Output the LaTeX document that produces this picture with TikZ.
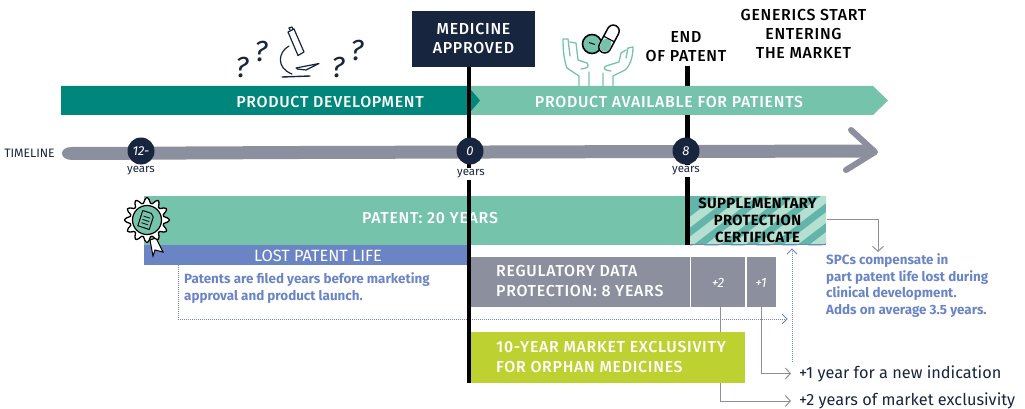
\documentclass[tikz,border=0pt]{standalone}
\usepackage{fontspec}
\setmainfont{Fira Sans}
\newfontfamily\capsmed[LetterSpace=4.5]{Fira Sans Medium}
\newfontfamily\capsbold[LetterSpace=2.5]{Fira Sans}
\usetikzlibrary{arrows.meta,calc}
\definecolor{navy}{HTML}{18253F}
\definecolor{teal1}{HTML}{00867A}
\definecolor{mint}{HTML}{76C3AB}
\definecolor{greyb}{HTML}{8C909E}
\definecolor{blue1}{HTML}{6B84C4}
\definecolor{lime}{HTML}{BDD131}
\definecolor{stripeA}{HTML}{B5DFD0}
\definecolor{stripeB}{HTML}{62B5A8}
\tikzset{
 x=1pt,y=-1pt,
 box/.style={inner sep=0pt,outer sep=0pt,anchor=north west},
 capt/.style={font=\fontsize{15.9}{18}\selectfont\capsmed,text=white,align=center,inner sep=0pt},
 captl/.style={font=\fontsize{15.9}{20}\selectfont\capsmed,text=white,align=left,inner sep=0pt,anchor=west},
 headt/.style={font=\fontsize{15.9}{19}\selectfont\capsmed,text=black,align=center,inner sep=0pt},
 bluet/.style={font=\fontsize{13.4}{16.4}\selectfont\bfseries,text=blue1,align=left,inner sep=0pt,anchor=west},
 yearst/.style={font=\fontsize{11.5}{13}\selectfont,text=navy,inner sep=1.5pt,fill=white},
 dot/.style={circle,fill=navy,minimum size=27pt,inner sep=0pt,text=white,font=\fontsize{13}{13}\selectfont\itshape},
 gline/.style={draw=greyb,line width=1pt},
 garrow/.style={gline,-{Straight Barb[length=5pt,width=11pt]}},
 dotline/.style={draw=blue1,line width=1pt,densely dotted},
 noteT/.style={font=\fontsize{16.3}{16}\selectfont,text=navy,inner sep=0pt,anchor=west},
 quest/.style={font=\fontsize{29}{29}\selectfont\itshape,text=navy,inner sep=0pt},
 blackl/.style={draw=black,line width=4.5pt},
 handl/.style={draw=mint,line width=1.3pt,line join=round,line cap=round},
 ink/.style={draw=navy,line width=1.2pt,line cap=round,line join=round},
}
\begin{document}
\begin{tikzpicture}
\useasboundingbox (0,0) rectangle (1025,409);
% end of patent line lies behind the arrows
\coordinate (lineB1) at (687.5,66);
\coordinate (lineB2) at (687.5,245);
\draw[blackl] (lineB1) -- (lineB2);
% arrows
\fill[mint] (469,86) -- (873,86) -- (888,100.5) -- (873,115) -- (469,115) -- (479,100.5) -- cycle;
\fill[teal1] (61,86) -- (468,86) -- (480,100.5) -- (468,115) -- (61,115) -- cycle;
\node[capt] (dev) at (330,102.5) {PRODUCT DEVELOPMENT};
\node[capt] (avail) at (669,102.5) {PRODUCT AVAILABLE FOR PATIENTS};
% timeline
\fill[greyb] (72,147) .. controls (65,147) and (62,150) .. (62,153.5) .. controls (62,157) and (66,160) .. (72,160)
  -- (300,159) -- (870,157.5) -- (870,144.5) -- (300,146) -- cycle;
\draw[greyb,line width=6pt,line cap=round,line join=round] (851,130) -- (875,152) -- (846,170);
\node[font=\fontsize{12.2}{13}\selectfont,text=navy,inner sep=0pt] (tl) at (29.5,153) {TIMELINE};
% patent bars
\node[box,fill=blue1,minimum width=325pt,minimum height=20pt] (lost) at (144,245) {};
\node[font=\fontsize{16.3}{18}\selectfont,text=white,inner sep=0pt] (lostt) at (318,255.5) {LOST PATENT LIFE};
\node[box,fill=mint,minimum width=541pt,minimum height=49pt] (patent) at (144,196) {};
\draw[blackl] (lineB1) ++(0,130) -- (lineB2);
\node[capt] (patentt) at (430,218) {PATENT: 20 YEARS};
% SPC
\begin{scope}
\clip (690,196) rectangle (826,245);
\fill[stripeB] (690,196) rectangle (826,245);
\foreach \i in {0,...,8}{
  \fill[stripeA] ({640+\i*26},255) -- ({654+\i*26},255) -- ({739+\i*26},190) -- ({725+\i*26},190) -- cycle;
}
\fill[blue1] (690,243.5) rectangle (826,245);
\end{scope}
\node[box,minimum width=138pt,minimum height=49pt] (spc) at (688,196) {};
\node[font=\fontsize{14.8}{17}\selectfont\capsbold\bfseries,text=black,align=center,inner sep=0pt] (spct) at (757.5,220) {SUPPLEMENTARY\\PROTECTION\\CERTIFICATE};
% reg boxes
\node[box,fill=greyb,minimum width=219pt,minimum height=50pt] (reg) at (471,257) {};
\node[box,fill=greyb,minimum width=54pt,minimum height=50pt] (p2) at (691,257) {};
\node[box,fill=greyb,minimum width=29pt,minimum height=50pt] (p1) at (747,257) {};
\node[captl] (regt) at (496,281.5) {REGULATORY DATA\\PROTECTION: 8 YEARS};
\node[font=\fontsize{13.5}{13}\selectfont\itshape,text=white,inner sep=0pt] at (718,282.5) {+2};
\node[font=\fontsize{13.5}{13}\selectfont\itshape,text=white,inner sep=0pt] at (761,282.5) {+1};
% dotted
\coordinate (dotA) at (178,265);
\coordinate (dotB) at (178,319);
\coordinate (dotC) at (787,319);
\coordinate (dotD) at (792,362);
\coordinate (dotE) at (792,249);
\draw[dotline] (dotA) -- (dotB) -- (dotC);
\draw[draw=blue1,line width=.8pt] ($(dotC)+(-5,-5)$) -- (dotC) -- ($(dotC)+(-5,5)$);
\draw[dotline] (dotD) -- (dotE);
\draw[draw=blue1,line width=.8pt] ($(dotE)+(-5,5)$) -- (dotE) -- ($(dotE)+(5,5)$);
% grey connectors
\node[noteT] (n1) at (799,373.5) {+1 year for a new indication};
\node[noteT] (n2) at (799,401) {+2 years of market exclusivity};
\coordinate (p2out) at (720,307);
\coordinate (p1out) at (761,307);
\draw[garrow] (p2out) |- ([xshift=-8pt]n2.west);
\draw[garrow] (p1out) |- ([xshift=-8pt]n1.west);
\coordinate (spcout) at (827,219);
\coordinate (spcbend) at (878,219);
\coordinate (spcend) at (878,252);
\draw[garrow] (spcout) -- (spcbend) -- (spcend);
% lime
\node[box,fill=lime,minimum width=274pt,minimum height=51pt] (orph) at (471,332) {};
\node[captl] (ort) at (496,357) {10-YEAR MARKET EXCLUSIVITY\\FOR ORPHAN MEDICINES};
% approved
\node[box,fill=navy,minimum width=123pt,minimum height=56pt] (appr) at (412,11) {};
\node[capt] (apprt) at (473.5,38.5) [font=\fontsize{15.9}{19}\selectfont\capsmed] {MEDICINE\\APPROVED};
\coordinate (lineA) at (469,383);
\draw[blackl] (appr.south -| lineA) -- (lineA);
% circles
\node[dot] (c12) at (141,151) {12-};
\node[dot] (c0) at (470,151) {0};
\node[dot] (c8) at (686,151) {8};
\node[yearst] (y12) at (141,171) {years};
\node[yearst] (y0) at (471,174) {years};
\node[yearst] (y8) at (686,171) {years};
% header text
\node[headt] (endp) at (686,46.5) {END\\OF PATENT};
\node[headt] (gen) at (803.5,34) {GENERICS START\\ENTERING\\THE MARKET};
% body notes
\node[bluet] (pn) at (184,288) {Patents are filed years before marketing\\approval and product launch.};
\node[bluet] (sn) at (826,285.5) {SPCs compensate in\\part patent life lost during\\clinical development.\\Adds on average 3.5 years.};
% question marks and microscope
\node[quest] at (242,68) {?};
\node[quest] at (261,52) {?};
\node[quest] at (338,68) {?};
\node[quest] at (357,51) {?};
\draw[ink] (288,32) -- (294,29) -- (304,52) -- (298,55.5) -- cycle;
\draw[ink] (290,30) -- (289,28) -- (292,27) -- (293,29);
\draw[ink] (289,46) .. controls (278,52) and (276,68) .. (292,74);
\draw[ink] (296,68) -- (319,63.5) -- (306,70) -- (297,69);
\draw[ink,line width=1.4pt] (282,77) -- (310,76);
% hands
\draw[handl] (579,86) -- (579,76) -- (567,68) .. controls (564,60) and (563,50) .. (563,39) -- (568,39) -- (570,56)
   (570,42) -- (576,43) -- (578,60) -- (587,63) .. controls (589,66) and (589,68) .. (581,69) (589,72) -- (589,86);
\draw[handl] (613,86) -- (613,76) -- (625,70) .. controls (630,66) and (633,57) .. (633,47) -- (628,48) -- (626,58)
   (626,50) -- (621,53) -- (619,62) -- (606,66) .. controls (603,68) and (603,70) .. (611,71) (603,73) -- (603,86);
% pills
\draw[draw=black!85!navy,line width=1.6pt,fill=mint] (592,44) circle (9.5);
\draw[draw=black!85!navy,line width=1pt] (589,42.5) -- (595,44.5);
\begin{scope}[rotate around={-28:(609,39)}]
\draw[draw=black!85!navy,line width=1.5pt,fill=white,rounded corners=6pt] (603,24) rectangle (615,54);
\fill[mint,rounded corners=5pt] (604,39) rectangle (614,53);
\draw[draw=black!85!navy,line width=1.2pt] (603,39) -- (615,39);
\end{scope}
% rosette
\draw[draw=black,line width=1pt,fill=white] (150,240) -- (153,256) -- (155,250) -- (163,252) -- (156,238) -- cycle;
\draw[draw=black,line width=1.3pt,fill=white,line join=round]
  plot[smooth cycle,samples=60,domain=0:354,variable=\t] ({147+(19.5+3*cos(12*\t))*cos(\t)},{220+(19.5+3*cos(12*\t))*sin(\t)});
\draw[draw=black,line width=1.2pt,fill=mint] (147,220) circle (14.5);
\begin{scope}[rotate around={-18:(146,220)}]
\draw[draw=black!80!navy,line width=1pt,line join=round] (140,212) -- (149,212) -- (152,215) -- (152,228) -- (140,228) -- cycle;
\draw[draw=black!80!navy,line width=.8pt] (142.5,217) -- (149.5,217) (142.5,220.5) -- (149.5,220.5) (142.5,224) -- (149.5,224);
\end{scope}
\end{tikzpicture}
\end{document}
